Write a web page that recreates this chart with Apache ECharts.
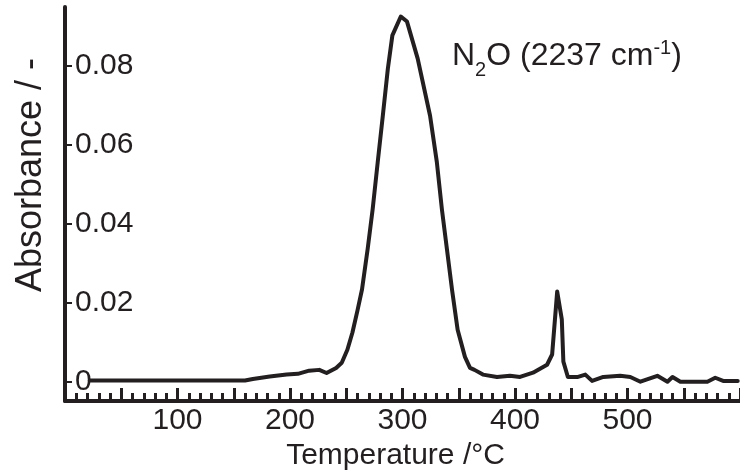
<!DOCTYPE html>
<html><head><meta charset="utf-8">
<script src="https://cdn.jsdelivr.net/npm/echarts@6/dist/echarts.min.js"></script>
<style>html,body{margin:0;padding:0;background:#fff}#c{width:740px;height:472px}</style>
</head><body><div id="c"></div>
<script>
const temperature = [22,160,167,182,197,207,217,226,232.5,241,246,251,255.5,260,264,269,273.5,278,282.5,287,291,298.5,304,313.5,324.5,330.5,335,339.5,344,349,355.5,360,364,371.5,384,395.5,404.5,416,428.5,433,437.5,441.6,443,447,456,462.5,468.5,478.5,493.5,502.5,511.5,526.5,535.5,540,547,571,578,585,598];
const absorbance = [0.0002,0.0002,0.0006,0.0012,0.0017,0.0019,0.0027,0.0029,0.0021,0.0034,0.0047,0.0080,0.0124,0.0180,0.0233,0.0335,0.0437,0.0557,0.0674,0.0794,0.0878,0.0926,0.0913,0.0819,0.0674,0.0557,0.0437,0.0335,0.0233,0.0131,0.0062,0.0034,0.0029,0.0017,0.0011,0.0014,0.0011,0.0022,0.0042,0.0068,0.0228,0.0157,0.0050,0.0011,0.0011,0.0017,0.0001,0.0011,0.0014,0.0011,-0.0001,0.0014,-0.0001,0.0011,-0.0001,-0.0001,0.0009,0.0001,0.0001];
const xTickLabels = [100,200,300,400,500];
const yTickValues = [0,0.02,0.04,0.06,0.08];
const xTitle = 'Temperature /°C';
const yTitle = 'Absorbance / -';

const INK = '#231f20';
const FONT = "'Liberation Sans', Arial, sans-serif";
const chart = echarts.init(document.getElementById('c'));

// annotation layout via text measurement
const ctx = document.createElement('canvas').getContext('2d');
function w(t, size){ ctx.font = size + 'px ' + FONT; return ctx.measureText(t).width; }
const ax = 452, by = 67, big = 32, small = 20;
const parts = [];
let cx = ax;
parts.push({t:'N', x:cx, y:by, s:big}); cx += w('N', big);
parts.push({t:'2', x:cx, y:by+10, s:small}); cx += w('2', small);
parts.push({t:'O (2237 cm', x:cx, y:by, s:big}); cx += w('O (2237 cm', big);
parts.push({t:'-1', x:cx, y:by-12, s:small}); cx += w('-1', small);
parts.push({t:')', x:cx, y:by, s:big});

chart.setOption({
  animation:false,
  backgroundColor:'#fff',
  grid:{left:65, right:0, top:7, bottom:71, containLabel:false, outerBoundsMode:'none'},
  xAxis:{
    type:'value', min:0, max:600, interval:50,
    name:xTitle, nameLocation:'middle', nameGap:34,
    nameTextStyle:{fontFamily:FONT, fontSize:30, color:INK, padding:[0,14,0,0]},
    axisLine:{onZero:false, lineStyle:{color:INK, width:4}},
    axisTick:{inside:true, length:13, lineStyle:{color:INK, width:3}},
    minorTick:{show:true, splitNumber:5, length:8, lineStyle:{color:INK, width:3}},
    axisLabel:{customValues:xTickLabels, margin:5, fontFamily:FONT, fontSize:30, color:INK},
    splitLine:{show:false}
  },
  yAxis:{
    type:'value', min:-0.005, max:0.095,
    name:yTitle, nameLocation:'middle', nameGap:16, nameRotate:90,
    nameTextStyle:{fontFamily:FONT, fontSize:36, color:INK, padding:[0,0,0,58]},
    axisLine:{onZero:false, lineStyle:{color:INK, width:4}},
    axisTick:{inside:true, length:7, customValues:yTickValues, lineStyle:{color:INK, width:2}},
    axisLabel:{inside:true, margin:10, customValues:yTickValues, fontFamily:FONT, fontSize:30, color:INK,
      formatter:v => v === 0 ? '0' : v.toFixed(2)},
    splitLine:{show:false}
  },
  series:[{
    type:'line', showSymbol:false, smooth:false,
    data: temperature.map((t,i)=>[t, absorbance[i]]),
    lineStyle:{color:INK, width:4, join:'round', cap:'round'},
    z:1
  }],
  graphic: parts.map(p => ({
    type:'text', x:p.x, y:p.y - 0.347 * p.s,
    style:{text:p.t, font:p.s + 'px ' + FONT, fill:INK, verticalAlign:'middle', align:'left'}
  }))
});
</script>
</body></html>
